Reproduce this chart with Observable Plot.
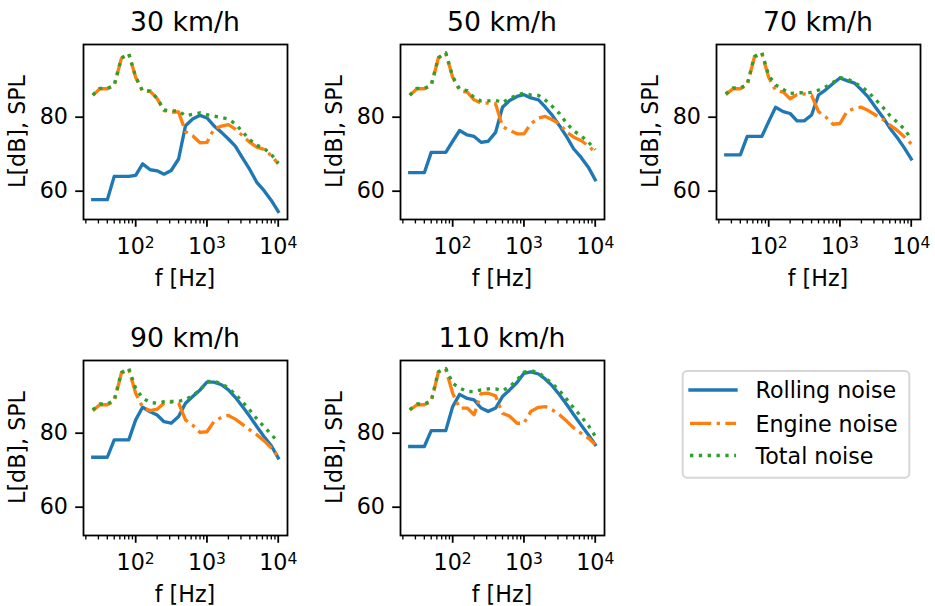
<!DOCTYPE html>
<html><head><meta charset="utf-8">
<script src="https://cdn.jsdelivr.net/npm/d3@7"></script>
<script src="https://cdn.jsdelivr.net/npm/@observablehq/plot@0.6"></script>
<style>
html,body{margin:0;padding:0;background:#fff;overflow:hidden}
#root{position:relative;width:935px;height:606px;font-family:"DejaVu Sans",sans-serif}
#root svg{position:absolute}
</style></head><body><div id="root"></div>
<script>
const freq = [25, 31.5, 40, 50, 63, 80, 100, 125, 160, 200, 250, 315, 400, 500, 630, 800, 1000, 1250, 1600, 2000, 2500, 3150, 4000, 5000, 6300, 8000, 10000];

const rolling30 = [57.7, 57.7, 57.7, 64.0, 64.0, 64.0, 64.3, 67.4, 65.8, 65.5, 64.6, 65.6, 68.7, 77.7, 79.5, 80.5, 79.8, 77.7, 75.9, 74.1, 72.2, 69.0, 65.8, 62.4, 60.2, 57.5, 54.5];
const engine30  = [85.9, 87.7, 87.7, 88.5, 95.9, 97.1, 90.8, 87.0, 87.0, 85.0, 81.8, 81.4, 81.4, 76.1, 75.0, 73.1, 73.2, 76.8, 77.6, 78.0, 76.8, 75.0, 73.2, 71.9, 71.3, 69.6, 67.4];
const total30   = [86.0, 87.8, 87.8, 88.7, 96.0, 97.2, 90.9, 87.1, 87.1, 85.1, 82.0, 81.7, 81.7, 80.4, 80.8, 81.2, 80.7, 80.3, 79.9, 79.5, 78.2, 76.1, 73.9, 72.4, 71.6, 69.9, 67.6];

const rolling50 = [65.0, 65.0, 65.0, 70.5, 70.5, 70.5, 73.5, 76.4, 75.2, 74.8, 73.2, 73.5, 75.9, 82.7, 84.5, 85.6, 86.1, 85.2, 84.7, 82.7, 80.5, 77.7, 74.6, 71.4, 69.2, 66.5, 63.1];
const engine50  = [85.9, 87.7, 87.7, 88.5, 96.0, 97.3, 90.8, 87.2, 86.8, 84.7, 83.8, 83.8, 83.6, 77.5, 76.4, 75.5, 75.5, 78.2, 79.8, 80.2, 79.3, 78.2, 75.9, 74.6, 73.7, 72.3, 70.5];
const total50   = [86.0, 87.8, 87.8, 88.7, 96.1, 97.4, 91.0, 87.6, 87.2, 85.3, 84.4, 84.4, 84.6, 83.9, 85.1, 86.0, 86.5, 86.0, 85.9, 84.6, 82.9, 81.0, 78.3, 76.3, 75.0, 73.3, 71.2];

const rolling70 = [69.8, 69.8, 69.8, 74.8, 74.8, 74.8, 78.8, 82.7, 81.5, 81.0, 79.0, 79.0, 80.6, 86.0, 87.4, 89.1, 90.6, 89.9, 89.2, 87.4, 85.4, 82.7, 80.0, 77.1, 74.6, 71.7, 68.7];
const engine70  = [86.1, 87.7, 87.7, 88.7, 96.2, 97.3, 90.8, 87.2, 86.8, 85.0, 86.1, 86.3, 85.9, 81.5, 80.1, 78.1, 78.3, 81.5, 82.4, 82.7, 81.8, 80.6, 79.4, 77.9, 76.5, 74.7, 72.8];
const total70   = [86.3, 87.9, 87.9, 88.9, 96.4, 97.5, 91.3, 88.7, 87.5, 86.4, 86.6, 86.6, 86.7, 87.3, 88.2, 89.4, 90.7, 90.4, 89.3, 88.3, 86.8, 84.8, 82.7, 80.5, 78.7, 76.8, 74.1];

const rolling90 = [73.5, 73.5, 73.5, 78.2, 78.2, 78.2, 83.6, 87.0, 85.8, 84.9, 83.1, 82.7, 84.5, 88.1, 89.9, 91.7, 93.8, 93.8, 93.1, 91.7, 89.7, 87.2, 84.5, 81.8, 79.1, 76.6, 73.3];
const engine90  = [86.1, 87.7, 87.7, 88.7, 96.2, 97.3, 90.8, 87.0, 86.1, 86.5, 88.1, 88.4, 88.1, 83.6, 82.2, 80.2, 80.4, 83.1, 84.3, 84.8, 83.8, 82.4, 80.9, 79.6, 78.0, 76.0, 73.7];
const total90   = [86.3, 87.9, 87.9, 88.9, 96.4, 97.5, 92.1, 89.5, 88.3, 88.1, 88.5, 88.6, 88.6, 89.1, 90.2, 91.6, 94.0, 94.0, 93.4, 92.2, 90.5, 88.5, 86.2, 83.9, 81.8, 79.7, 77.5];

const rolling110 = [76.4, 76.4, 76.4, 80.7, 80.7, 80.7, 87.2, 90.5, 89.4, 89.0, 86.8, 85.9, 86.8, 89.9, 91.7, 93.7, 96.2, 96.6, 96.0, 94.6, 92.8, 90.4, 87.7, 85.0, 82.3, 79.6, 76.9];
const engine110  = [86.2, 87.7, 87.7, 88.5, 96.5, 97.3, 90.8, 86.8, 86.8, 85.0, 90.7, 90.8, 90.1, 85.4, 84.6, 82.7, 82.7, 85.9, 87.0, 87.2, 86.3, 85.0, 83.2, 81.4, 80.0, 78.7, 76.9];
const total110   = [86.4, 87.9, 87.9, 88.8, 96.6, 97.5, 93.5, 92.2, 91.3, 91.2, 91.7, 92.0, 92.0, 91.5, 92.6, 94.4, 96.5, 96.9, 96.4, 94.9, 93.4, 91.5, 89.1, 86.8, 84.6, 82.1, 79.2];

const titles = ["30 km/h", "50 km/h", "70 km/h", "90 km/h", "110 km/h"];
const seriesNames = ["Rolling noise", "Engine noise", "Total noise"];
const yTicks = [60, 80];
const xMajorTicks = [100, 1000, 10000];
const xMinorTicks = [20, 30, 40, 50, 60, 70, 80, 90, 200, 300, 400, 500, 600, 700, 800, 900, 2000, 3000, 4000, 5000, 6000, 7000, 8000, 9000];
const xLabel = "f [Hz]";
const yLabel = "L[dB], SPL";

const panels = [
  {title: titles[0], r: rolling30, e: engine30, t: total30, left: 0, top: 0},
  {title: titles[1], r: rolling50, e: engine50, t: total50, left: 316.5, top: 0},
  {title: titles[2], r: rolling70, e: engine70, t: total70, left: 633, top: 0},
  {title: titles[3], r: rolling90, e: engine90, t: total90, left: 0, top: 316},
  {title: titles[4], r: rolling110, e: engine110, t: total110, left: 316.5, top: 316}
];

const colors = ["#1f77b4", "#ff7f0e", "#2ca02c"];
const dashes = [null, "21.3,5.33,3.33,5.33", "3.33,5.5"];
const caps = ["square", "butt", "butt"];

const FS = 22.2, TFS = 26.7, LW = 3.33;
const W = 302, H = 300, ML = 83, MR = 15, MT = 44, MB = 81;
const xDomain = [18.53, 13494];
const yDomain = [52.35, 99.65];

const root = document.getElementById("root");

function rowsOf(vals) { return freq.map((f, i) => ({f, L: vals[i]})); }

for (const p of panels) {
  const series = [p.r, p.e, p.t];
  const lineMarks = series.map((vals, k) => Plot.line(rowsOf(vals), {
    x: "f", y: "L", stroke: colors[k], strokeWidth: LW,
    strokeDasharray: dashes[k] || undefined, strokeLinecap: caps[k], strokeLinejoin: "round"
  }));
  const chart = Plot.plot({
    width: W, height: H,
    marginLeft: ML, marginRight: MR, marginTop: MT, marginBottom: MB,
    x: {type: "log", domain: xDomain},
    y: {domain: yDomain},
    style: {fontFamily: "DejaVu Sans", fontSize: FS + "px", color: "black", background: "transparent", overflow: "visible"},
    marks: [
      ...lineMarks,
      Plot.axisY({ticks: yTicks, tickSize: 7.8, tickPadding: 7.8, fontSize: FS, label: null, strokeWidth: 1.78}),
      Plot.axisX({ticks: xMinorTicks, tickSize: 4.44, tickFormat: () => "", label: null, strokeWidth: 1.33}),
      Plot.axisX({ticks: xMajorTicks, tickSize: 7.8, tickPadding: 11.4, fontSize: FS, label: null, strokeWidth: 1.78,
        tickFormat: d => "10^" + Math.round(Math.log10(d))}),
      Plot.frame({stroke: "black", strokeWidth: 1.78})
    ]
  });
  const svg = d3.select(chart);
  svg.selectAll("text").each(function() {
    const txt = this.textContent;
    if (!txt || txt.indexOf("^") < 0) return;
    const [b, e] = txt.split("^");
    const s = d3.select(this);
    s.selectAll("*").remove();
    s.text(null);
    s.append("tspan").text(b);
    s.append("tspan").attr("dy", -6.7).attr("font-size", (FS * 0.7) + "px").text(e);
  });
  const cx = ML + (W - ML - MR) / 2;
  const cy = MT + (H - MT - MB) / 2;
  svg.append("text").attr("x", cx).attr("y", 31).attr("text-anchor", "middle")
    .attr("font-size", TFS).style("font-size", TFS + "px").attr("fill", "black").text(p.title);
  svg.append("text").attr("x", cx).attr("y", 286.4).attr("text-anchor", "middle")
    .style("font-size", FS + "px").attr("fill", "black").text(xLabel);
  svg.append("text").attr("transform", `translate(24.5,${cy}) rotate(-90)`).attr("text-anchor", "middle")
    .style("font-size", FS + "px").attr("fill", "black").text(yLabel);
  chart.style.left = p.left + "px";
  chart.style.top = p.top + "px";
  root.appendChild(chart);
}

// legend
const leg = d3.create("svg").attr("width", 260).attr("height", 130)
  .style("left", "670px").style("top", "360px").style("font-family", "DejaVu Sans");
leg.append("rect").attr("x", 12.7).attr("y", 11).attr("width", 226.6).attr("height", 106.7)
  .attr("rx", 4.4).attr("fill", "white").attr("stroke", "#d6d6d6").attr("stroke-width", 2);
const rowY = [30, 63.3, 95.5];
seriesNames.forEach((name, k) => {
  const l = leg.append("line").attr("x1", 20).attr("x2", 66).attr("y1", rowY[k]).attr("y2", rowY[k])
    .attr("stroke", colors[k]).attr("stroke-width", LW).attr("stroke-linecap", caps[k]);
  if (dashes[k]) l.attr("stroke-dasharray", dashes[k]);
  leg.append("text").attr("x", 85.5).attr("y", rowY[k] + 8.4).style("font-size", FS + "px").attr("fill", "black").text(name);
});
root.appendChild(leg.node());
</script></body></html>
